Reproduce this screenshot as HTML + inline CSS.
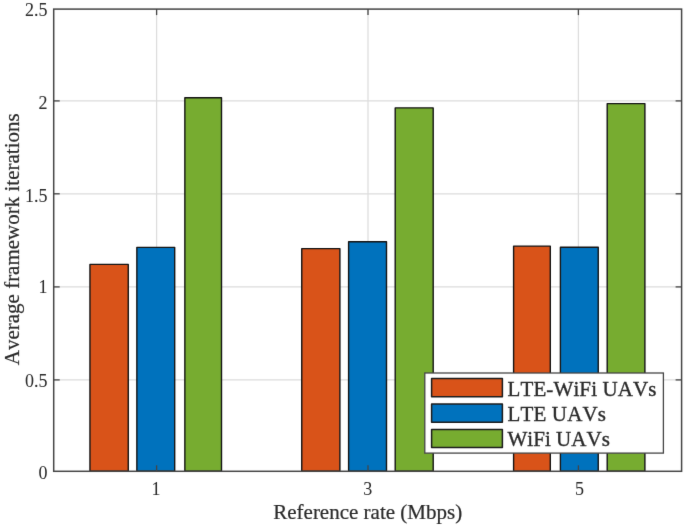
<!DOCTYPE html>
<html lang="en">
<head>
<meta charset="utf-8">
<title>Average framework iterations vs reference rate</title>
<style>
html,body{margin:0;padding:0;background:#ffffff;}
body{width:685px;height:528px;overflow:hidden;}
svg{display:block;}
svg text{stroke:#2b2b2b;stroke-width:0.04px;}
svg text.lb{stroke-width:0.35px;}
svg text.al{stroke-width:0.22px;}
</style>
</head>
<body>
<svg width="685" height="528" viewBox="0 0 685 528" font-family="'Liberation Serif', 'Times New Roman', serif" fill="#2b2b2b" style="font-kerning:none;font-variant-ligatures:none">
<rect x="0" y="0" width="685" height="528" fill="#ffffff"/>
<defs><filter id="soft" x="0" y="0" width="100%" height="100%" filterUnits="userSpaceOnUse" color-interpolation-filters="sRGB"><feConvolveMatrix order="3" kernelMatrix="0.0052 0.0619 0.0052 0.0619 0.7314 0.0619 0.0052 0.0619 0.0052" divisor="1" edgeMode="duplicate" preserveAlpha="true"/></filter></defs>
<g filter="url(#soft)">
<rect x="-5" y="-5" width="695" height="538" fill="#ffffff"/>
<line x1="53.7" x2="681.6" y1="100.9" y2="100.9" stroke="#dcdcdc" stroke-width="1.2"/>
<line x1="53.7" x2="681.6" y1="193.8" y2="193.8" stroke="#dcdcdc" stroke-width="1.2"/>
<line x1="53.7" x2="681.6" y1="286.9" y2="286.9" stroke="#dcdcdc" stroke-width="1.2"/>
<line x1="53.7" x2="681.6" y1="379.9" y2="379.9" stroke="#dcdcdc" stroke-width="1.2"/>
<line x1="156.6" x2="156.6" y1="9.1" y2="471.3" stroke="#dcdcdc" stroke-width="1.2"/>
<line x1="368.0" x2="368.0" y1="9.1" y2="471.3" stroke="#dcdcdc" stroke-width="1.2"/>
<line x1="578.4" x2="578.4" y1="9.1" y2="471.3" stroke="#dcdcdc" stroke-width="1.2"/>
<rect x="89.96" y="264.40" width="38.31" height="206.90" fill="#D95319" stroke="#141414" stroke-width="1.4" stroke-linejoin="round"/>
<rect x="136.85" y="247.35" width="37.85" height="223.95" fill="#0072BD" stroke="#141414" stroke-width="1.4" stroke-linejoin="round"/>
<rect x="184.85" y="97.76" width="36.65" height="373.54" fill="#77AC30" stroke="#141414" stroke-width="1.4" stroke-linejoin="round"/>
<rect x="301.75" y="248.60" width="38.15" height="222.70" fill="#D95319" stroke="#141414" stroke-width="1.4" stroke-linejoin="round"/>
<rect x="348.60" y="241.75" width="37.90" height="229.55" fill="#0072BD" stroke="#141414" stroke-width="1.4" stroke-linejoin="round"/>
<rect x="395.20" y="107.90" width="38.00" height="363.40" fill="#77AC30" stroke="#141414" stroke-width="1.4" stroke-linejoin="round"/>
<rect x="513.60" y="246.10" width="36.70" height="225.20" fill="#D95319" stroke="#141414" stroke-width="1.4" stroke-linejoin="round"/>
<rect x="560.40" y="247.30" width="37.85" height="224.00" fill="#0072BD" stroke="#141414" stroke-width="1.4" stroke-linejoin="round"/>
<rect x="607.20" y="103.60" width="37.70" height="367.70" fill="#77AC30" stroke="#141414" stroke-width="1.4" stroke-linejoin="round"/>
<rect x="53.7" y="9.1" width="627.9" height="462.2" fill="none" stroke="#454545" stroke-width="1.5"/>
<line x1="53.7" x2="59.7" y1="100.9" y2="100.9" stroke="#454545" stroke-width="1.3"/>
<line x1="681.6" x2="675.6" y1="100.9" y2="100.9" stroke="#454545" stroke-width="1.3"/>
<line x1="53.7" x2="59.7" y1="193.8" y2="193.8" stroke="#454545" stroke-width="1.3"/>
<line x1="681.6" x2="675.6" y1="193.8" y2="193.8" stroke="#454545" stroke-width="1.3"/>
<line x1="53.7" x2="59.7" y1="286.9" y2="286.9" stroke="#454545" stroke-width="1.3"/>
<line x1="681.6" x2="675.6" y1="286.9" y2="286.9" stroke="#454545" stroke-width="1.3"/>
<line x1="53.7" x2="59.7" y1="379.9" y2="379.9" stroke="#454545" stroke-width="1.3"/>
<line x1="681.6" x2="675.6" y1="379.9" y2="379.9" stroke="#454545" stroke-width="1.3"/>
<line x1="156.6" x2="156.6" y1="471.3" y2="465.3" stroke="#454545" stroke-width="1.3"/>
<line x1="156.6" x2="156.6" y1="9.1" y2="15.1" stroke="#454545" stroke-width="1.3"/>
<line x1="368.0" x2="368.0" y1="471.3" y2="465.3" stroke="#454545" stroke-width="1.3"/>
<line x1="368.0" x2="368.0" y1="9.1" y2="15.1" stroke="#454545" stroke-width="1.3"/>
<line x1="578.4" x2="578.4" y1="471.3" y2="465.3" stroke="#454545" stroke-width="1.3"/>
<line x1="578.4" x2="578.4" y1="9.1" y2="15.1" stroke="#454545" stroke-width="1.3"/>
<text x="47.6" y="15.85" font-size="18" text-anchor="end">2.5</text>
<text x="47.6" y="109.0" font-size="18" text-anchor="end">2</text>
<text x="47.6" y="201.9" font-size="18" text-anchor="end">1.5</text>
<text x="47.6" y="293.2" font-size="18" text-anchor="end">1</text>
<text x="47.6" y="386.9" font-size="18" text-anchor="end">0.5</text>
<text x="47.6" y="478.6" font-size="18" text-anchor="end">0</text>
<text x="156.1" y="495.2" font-size="18" text-anchor="middle">1</text>
<text x="367.7" y="495.2" font-size="18" text-anchor="middle">3</text>
<text x="579.4" y="495.2" font-size="18" text-anchor="middle">5</text>
<text class="al" x="367.7" y="518.7" font-size="21" text-anchor="middle">Reference rate (Mbps)</text>
<text class="al" transform="translate(18.6,239.3) rotate(-90)" font-size="21" text-anchor="middle">Average framework iterations</text>
<rect x="424.8" y="373" width="238.59999999999997" height="80.10000000000002" fill="#ffffff" stroke="#454545" stroke-width="1.3"/>
<rect x="431.6" y="378.6" width="70.8" height="18.2" fill="#D95319" stroke="#1c1c1c" stroke-width="1.5" stroke-linejoin="round"/>
<text class="lb" x="507.5" y="396.2" font-size="21" letter-spacing="0.12">LTE-WiFi UAVs</text>
<rect x="431.6" y="404.0" width="70.8" height="18.2" fill="#0072BD" stroke="#1c1c1c" stroke-width="1.5" stroke-linejoin="round"/>
<text class="lb" x="507.5" y="421.4" font-size="21" letter-spacing="0.15">LTE UAVs</text>
<rect x="431.6" y="429.4" width="70.8" height="18.2" fill="#77AC30" stroke="#1c1c1c" stroke-width="1.5" stroke-linejoin="round"/>
<text class="lb" x="507.5" y="446.3" font-size="21" letter-spacing="0.03">WiFi UAVs</text>
</g>
</svg>
</body>
</html>
